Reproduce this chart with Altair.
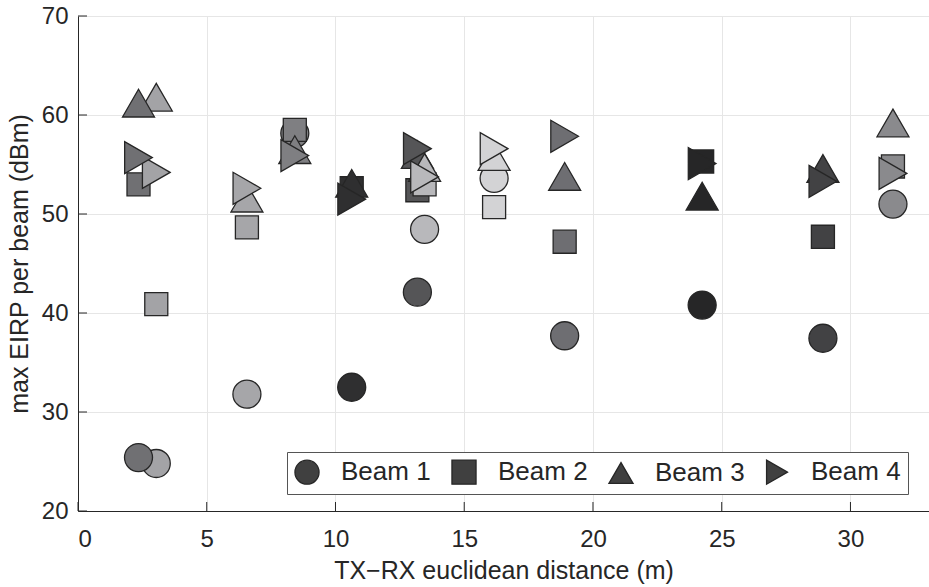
import altair as alt
import pandas as pd

# TX-RX euclidean distance (m) of each measurement location
dist = [3.04, 2.35, 6.56, 8.42, 10.63, 13.18, 13.46, 16.16, 18.9, 24.24, 28.93, 31.65]
# grey shade used for each location
shade = ["#a3a3a6", "#707073", "#a6a6a9", "#7f7f82", "#2f2f30", "#555557",
         "#b8b8bb", "#d3d3d5", "#6e6e72", "#262627", "#424244", "#8a8a8d"]
# max EIRP per beam (dBm) at each location
beam1 = [24.8, 25.4, 31.8, 58.15, 32.5, 42.1, 48.45, 53.6, 37.7, 40.8, 37.45, 51.0]
beam2 = [40.9, 53.0, 48.65, 58.5, 52.6, 52.4, 53.0, 50.7, 47.2, 55.3, 47.7, 54.8]
beam3 = [61.8, 61.2, 51.6, 56.5, 53.1, 56.0, 54.7, 55.8, 53.8, 51.8, 54.6, 59.2]
beam4 = [54.2, 55.7, 52.6, 55.9, 51.5, 56.6, 53.75, 56.6, 57.85, 55.1, 53.3, 54.1]

beams = ["Beam 1", "Beam 2", "Beam 3", "Beam 4"]
shapes = ["circle", "square", "triangle-up", "triangle-right"]
sizes = [784, 530, 1024, 1024]
x_ticks = [0, 5, 10, 15, 20, 25, 30]
y_ticks = [20, 30, 40, 50, 60, 70]

rows = []
for i, d in enumerate(dist):
    for b, vals in zip(beams, [beam1, beam2, beam3, beam4]):
        rows.append({"loc": f"L{i}", "dist": d, "beam": b, "eirp": vals[i]})
df = pd.DataFrame(rows)

INK = "#262626"
FONT = "Liberation Sans"
xscale = alt.Scale(domain=[0, 33.05], nice=False, zero=False)
yscale = alt.Scale(domain=[20, 70], nice=False, zero=False)

x_axis = alt.Axis(values=x_ticks, title="TX\u2212RX euclidean distance (m)",
                  labelPadding=16, titlePadding=7)
y_axis = alt.Axis(values=y_ticks, title="max EIRP per beam (dBm)",
                  labelPadding=10, titlePadding=9)

enc = dict(
    x=alt.X("dist:Q", scale=xscale, axis=x_axis),
    y=alt.Y("eirp:Q", scale=yscale, axis=y_axis),
    shape=alt.Shape("beam:N", scale=alt.Scale(domain=beams, range=shapes),
                    legend=alt.Legend(title=None, orient="none", direction="horizontal",
                                      legendX=209, legendY=436, symbolSize=580,
                                      symbolFillColor="#404040", symbolStrokeColor=INK,
                                      symbolStrokeWidth=1.3, labelFontSize=26,
                                      labelFont=FONT, labelColor=INK, labelOffset=21,
                                      columnPadding=18, padding=7,
                                      strokeColor="#555555", fillColor="white")),
    fill=alt.Fill("loc:N", scale=alt.Scale(domain=[f"L{i}" for i in range(len(dist))],
                                           range=shade), legend=None),
    # marker size per beam (sorted beam names give the same order as sizes)
    size=alt.Size("marker:N", scale=alt.Scale(type="ordinal", range=sizes), legend=None),
    order=alt.Order("idx:Q"),
)

base = alt.Chart(df).transform_window(idx="row_number()").transform_calculate(
    marker="datum.beam")

pts = base.transform_filter(alt.datum.beam != "Beam 4").mark_point(
    filled=True, stroke=INK, strokeWidth=1.3, opacity=1
).encode(**enc)

# right-pointing triangles sit slightly right of their location
pts4 = base.transform_filter(alt.datum.beam == "Beam 4").mark_point(
    filled=True, stroke=INK, strokeWidth=1.3, opacity=1, dx=4
).encode(**enc)

# inward tick marks
xt = alt.Chart(pd.DataFrame({"v": x_ticks})).mark_rule(color=INK, strokeWidth=1).encode(
    x=alt.X("v:Q", scale=xscale, axis=x_axis), y=alt.value(495), y2=alt.value(486))
yt = alt.Chart(pd.DataFrame({"v": y_ticks})).mark_rule(color=INK, strokeWidth=1).encode(
    y=alt.Y("v:Q", scale=yscale, axis=y_axis), x=alt.value(0), x2=alt.value(9))

chart = alt.layer(xt, yt, pts, pts4).properties(
    width=851, height=495, autosize="none",
    padding={"left": 78, "top": 16, "right": 0, "bottom": 76},
).configure_view(stroke=None).configure_axis(
    domainColor=INK, domainWidth=1, tickSize=0, grid=True, gridColor="#e6e6e6",
    gridWidth=1, labelFont=FONT, labelFontSize=24, labelColor=INK,
    titleFont=FONT, titleFontSize=25, titleColor=INK, titleFontWeight="normal",
)

chart.save("out.html", embed_options={"renderer": "svg", "actions": False})
